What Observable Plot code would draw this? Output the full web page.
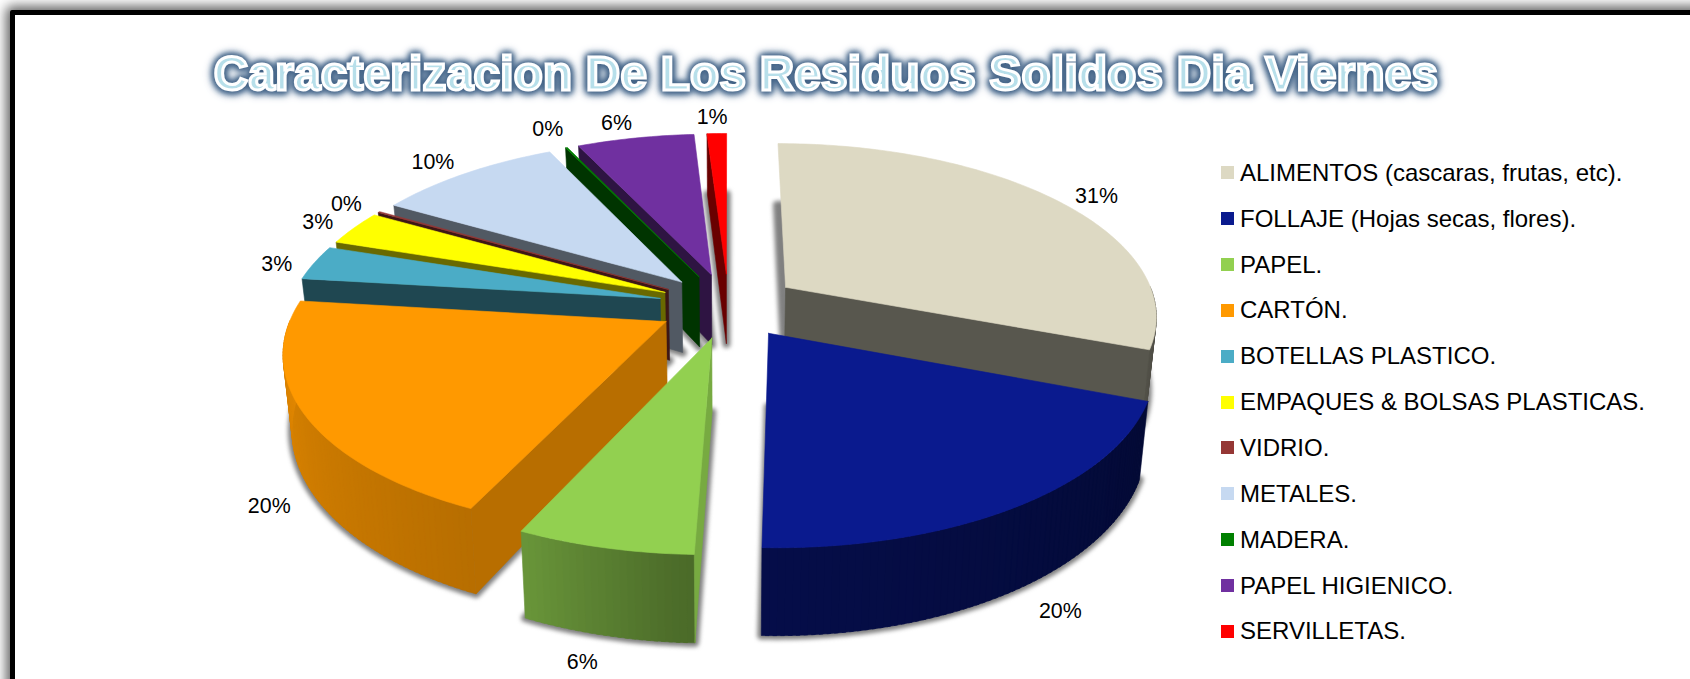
<!DOCTYPE html>
<html lang="es">
<head>
<meta charset="utf-8">
<title>Caracterizacion De Los Residuos Solidos Dia Viernes</title>
<script src="https://cdn.jsdelivr.net/npm/d3@7"></script>
<script src="https://cdn.jsdelivr.net/npm/@observablehq/plot@0.6"></script>
<style>
  html, body { margin: 0; padding: 0; width: 1690px; height: 679px; overflow: hidden; background: #fff; font-family: "Liberation Sans", Arial, sans-serif; }
  #frame { position: absolute; left: 10px; top: 10px; width: 1800px; height: 800px; background: #fff; border: 5px solid #000; box-sizing: border-box; border-radius: 2px; box-shadow: 0 0 12px 4px rgba(60,60,60,.8); }
  #chart { position: absolute; left: 0; top: 0; }
  #title { position: absolute; left: 0; width: 1652px; top: 42px; text-align: center; font: bold 47.5px/64px "Liberation Sans", Arial, sans-serif; letter-spacing: .32px; color: #b7dfea; -webkit-text-stroke: 3px #fff; white-space: nowrap; filter: drop-shadow(0 0 3px #3f5f82) drop-shadow(0 0 3px #4f6f92) drop-shadow(0 1px 2px #6d89a8); }
  #legend { position: absolute; left: 1221px; top: 150px; }
  #legend .row { height: 45.85px; display: flex; align-items: center; font-size: 24px; color: #000; white-space: nowrap; }
  #legend .swatch { width: 13px; height: 13px; margin-right: 6px; flex: none; }
</style>
</head>
<body>
<div id="frame"></div>
<div id="chart"></div>
<div id="title">Caracterizacion De Los Residuos Solidos Dia Viernes</div>
<div id="legend"></div>
<script>
// Friday waste composition, percent by category
const categories = ["ALIMENTOS (cascaras, frutas, etc).", "FOLLAJE (Hojas secas, flores).", "PAPEL.", "CARTÓN.", "BOTELLAS PLASTICO.", "EMPAQUES & BOLSAS PLASTICAS.", "VIDRIO.", "METALES.", "MADERA.", "PAPEL HIGIENICO.", "SERVILLETAS."];
const percents = [30.8, 19.7, 6.4, 20.0, 3.2, 3.2, 0.1, 9.5, 0.1, 6.0, 1.0];
const colors = ["#ddd9c3", "#0a1a8e", "#92d050", "#ff9900", "#4bacc6", "#ffff00", "#953735", "#c6d9f1", "#008000", "#7030a0", "#ff0000"];

// Where each percentage label sits: ring radius and turn from the slice's mid angle (degrees)
const labelRing = [1.31, 1.56, 1.60, 1.44, 1.29, 1.31, 1.31, 1.33, 1.36, 1.33, 1.33];
const labelTurn = [1.8, 7, -2.6, -14.2, -1.4, -0.3, -0.1, -0.9, 0.1, -1.4, -0.5];

// Tilted-pie view: perspective strength, exploded offset, wall height
const perspective = 0.156;
const explode = 0.19;
const wallHeight = 0.42;
const wallTaper = 0.98;

// Scale extents of the pie plane
const width = 1690, height = 679;
const xDomain = [-728 / 371, (width - 728) / 371];
const yDomain = [305 / 171.4, (305 - height) / 171.4];

const rad = (deg) => (deg * Math.PI) / 180;
const dir = (deg) => [Math.sin(rad(deg)), Math.cos(rad(deg))];

// Plane point to view units; low = the foot of the wall
function project(u, v, low = false) {
  const den = 1 + perspective * v;
  const x = u / den, y = v / den;
  return low ? [x * wallTaper, y - wallHeight / den] : [x, y];
}

const total = d3.sum(percents);
let running = 0;
const slices = percents.map((value, i) => {
  const a0 = (running / total) * 360;
  running += value;
  const a1 = (running / total) * 360;
  const mid = (a0 + a1) / 2;
  const [ex, ey] = dir(mid);
  return {i, value, a0, a1, mid, apex: [explode * ex, explode * ey], color: colors[i]};
});

const shade = (color, f) => {
  const c = d3.rgb(color);
  return d3.rgb(c.r * f, c.g * f, c.b * f).formatHex();
};
const wallLight = d3.scaleLinear().domain([100, 184, 205, 277]).range([0.35, 0.52, 0.72, 0.9]).clamp(true);
const faceLight = d3.scaleLinear().domain([0, 112, 184, 205, 277]).range([0.4, 0.4, 0.83, 0.72, 0.41]).clamp(true);

const rimPoint = (s, a, low) => {
  const [du, dv] = dir(a);
  return project(s.apex[0] + du, s.apex[1] + dv, low);
};
const arcAngles = (s, step = 1) => {
  const n = Math.max(1, Math.ceil((s.a1 - s.a0) / step));
  return d3.range(n + 1).map((k) => s.a0 + ((s.a1 - s.a0) * k) / n);
};

const polygons = [];
const shadows = [];
function addPolygon(list, id, pts, fill) {
  for (const [x, y] of [...pts, pts[0]]) list.push({id, x, y, fill});
}

// Back-to-front painting order; only the faces turned towards the viewer are kept
const paintOrder = [10, 9, 0, 8, 7, 6, 5, 4, 3, 2, 1];
for (const idx of paintOrder) {
  const s = slices[idx];
  const top = project(s.apex[0], s.apex[1]);
  const low = project(s.apex[0], s.apex[1], true);
  const angles = arcAngles(s);
  addPolygon(shadows, `s${idx}`, [low, ...angles.map((a) => rimPoint(s, a, true))], "#888");
  d3.pairs(angles).forEach(([a, b], k) => {
    if (Math.cos(rad((a + b) / 2)) < 0) {
      // Each wall strip runs a little under the next one so no seam shows between them
      const end = Math.min(b + 0.5, s.a1);
      addPolygon(polygons, `w${idx}-${k}`, [rimPoint(s, a), rimPoint(s, end), rimPoint(s, end, true), rimPoint(s, a, true)], shade(s.color, wallLight((a + b) / 2)));
    }
  });
  if (Math.sin(rad(s.a0)) < -1e-6) {
    addPolygon(polygons, `f${idx}-0`, [top, rimPoint(s, s.a0), rimPoint(s, s.a0, true), low], shade(s.color, faceLight(s.a0)));
  }
  if (Math.sin(rad(s.a1)) > 1e-6) {
    addPolygon(polygons, `f${idx}-1`, [top, rimPoint(s, s.a1), rimPoint(s, s.a1, true), low], shade(s.color, faceLight(s.a1)));
  }
  addPolygon(polygons, `t${idx}`, [top, ...angles.map((a) => rimPoint(s, a))], s.color);
}

const labels = slices.map((s, i) => {
  const [du, dv] = dir(s.mid + labelTurn[i]);
  const [x, y] = project(labelRing[i] * du, labelRing[i] * dv);
  return {x, y, text: `${Math.round(s.value)}%`};
});

const chart = Plot.plot({
  width, height,
  margin: 0,
  style: {background: "transparent", overflow: "visible"},
  x: {domain: xDomain, range: [0, width], axis: null},
  y: {domain: yDomain, range: [0, height], axis: null},
  marks: [
    Plot.line(shadows, {x: "x", y: "y", z: "id", fill: "#808080", stroke: "#808080", strokeWidth: 8, imageFilter: "blur(2px)"}),
    Plot.line(polygons, {x: "x", y: "y", z: "id", fill: {value: "fill", scale: null}, stroke: {value: "fill", scale: null}, strokeWidth: 0.6}),
    Plot.text(labels, {x: "x", y: "y", text: "text", fontSize: 21.4, fontFamily: "Liberation Sans, Arial, sans-serif", fill: "#000"})
  ]
});
document.getElementById("chart").append(chart);

// Legend column beside the pie
const legend = document.getElementById("legend");
categories.forEach((name, i) => {
  const row = document.createElement("div");
  row.className = "row";
  const swatch = document.createElement("span");
  swatch.className = "swatch";
  swatch.style.background = colors[i];
  const text = document.createElement("span");
  text.textContent = name;
  row.append(swatch, text);
  legend.append(row);
});
</script>
</body>
</html>
